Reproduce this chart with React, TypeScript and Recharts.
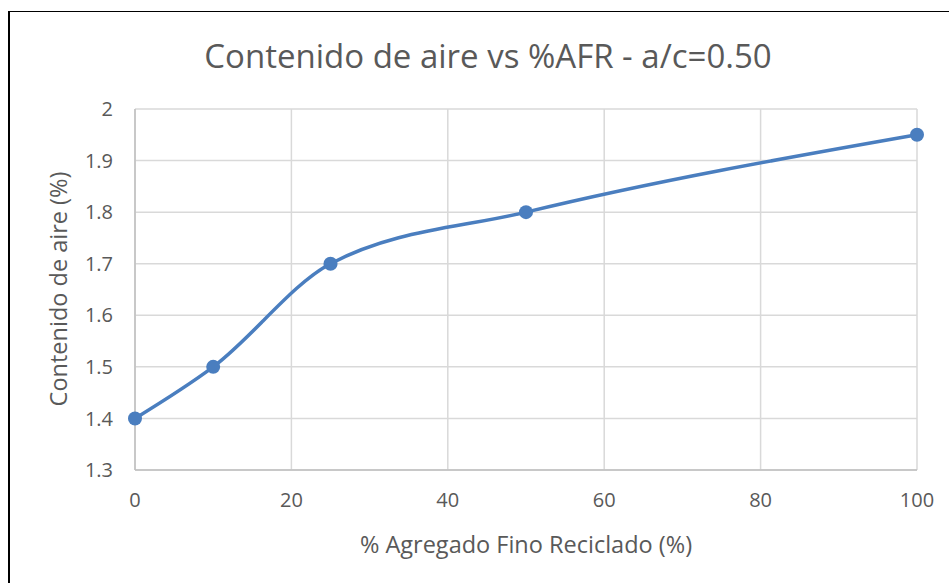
import { CartesianGrid, Line, LineChart, XAxis, YAxis } from "recharts";

// % of recycled fine aggregate and measured air content
const afrPercent = [0, 10, 25, 50, 100];
const airContent = [1.4, 1.5, 1.7, 1.8, 1.95];
const xTicks = [0, 20, 40, 60, 80, 100];
const yTicks = [1.3, 1.4, 1.5, 1.6, 1.7, 1.8, 1.9, 2];

const data = afrPercent.map((afr, i) => ({ afr, air: airContent[i] }));

const FONT = "'Open Sans', Lato, sans-serif";
const INK = "#595959";
const BLUE = "#4A7EBF";

export default function App() {
  return (
    <div
      style={{
        position: "fixed",
        left: 8,
        top: 11,
        width: 941,
        height: 572,
        borderLeft: "2px solid #000",
        borderTop: "1px solid #000",
        boxSizing: "border-box",
        background: "#fff",
        fontFamily: FONT,
        overflow: "hidden",
      }}
    >
      <style>{"html, body { overflow: hidden; }"}</style>
      <div
        style={{
          position: "absolute",
          left: 0,
          width: 956,
          top: 21,
          textAlign: "center",
          fontSize: 33,
          lineHeight: "46px",
          color: INK,
        }}
      >
        Contenido de aire vs %AFR - a/c=0.50
      </div>
      <div style={{ position: "absolute", left: 48, top: 277, width: 0, height: 0 }}>
        <div
          style={{
            position: "absolute",
            transform: "translate(-50%, -50%) rotate(-90deg)",
            whiteSpace: "nowrap",
            fontSize: 23.5,
            color: INK,
          }}
        >
          Contenido de aire (%)
        </div>
      </div>
      <div
        style={{
          position: "absolute",
          left: 0,
          width: 1032,
          top: 516,
          textAlign: "center",
          fontSize: 23.5,
          lineHeight: "32px",
          color: INK,
        }}
      >
        % Agregado Fino Reciclado (%)
      </div>
      <div style={{ position: "absolute", left: 0, top: 0 }}>
        <LineChart
          width={939}
          height={571}
          data={data}
          margin={{ top: 97, right: 32, bottom: 83, left: 46 }}
        >
          <CartesianGrid stroke="#d9d9d9" strokeWidth={1.5} />
          <XAxis
            dataKey="afr"
            type="number"
            domain={[0, 100]}
            ticks={xTicks}
            height={30}
            axisLine={{ stroke: "#bfbfbf", strokeWidth: 1.5 }}
            tickLine={false}
            tickMargin={17}
            tick={{ fill: INK, fontSize: 20, fontFamily: FONT }}
          />
          <YAxis
            dataKey="air"
            type="number"
            domain={[1.3, 2]}
            ticks={yTicks}
            width={79}
            axisLine={{ stroke: "#bfbfbf", strokeWidth: 1.5 }}
            tickLine={false}
            tickMargin={16}
            tick={{ fill: INK, fontSize: 20, fontFamily: FONT }}
          />
          <Line
            dataKey="air"
            type="monotone"
            stroke={BLUE}
            strokeWidth={3.5}
            dot={{ r: 7, fill: BLUE, stroke: BLUE, strokeWidth: 0 }}
            activeDot={false}
            isAnimationActive={false}
          />
        </LineChart>
      </div>
    </div>
  );
}
